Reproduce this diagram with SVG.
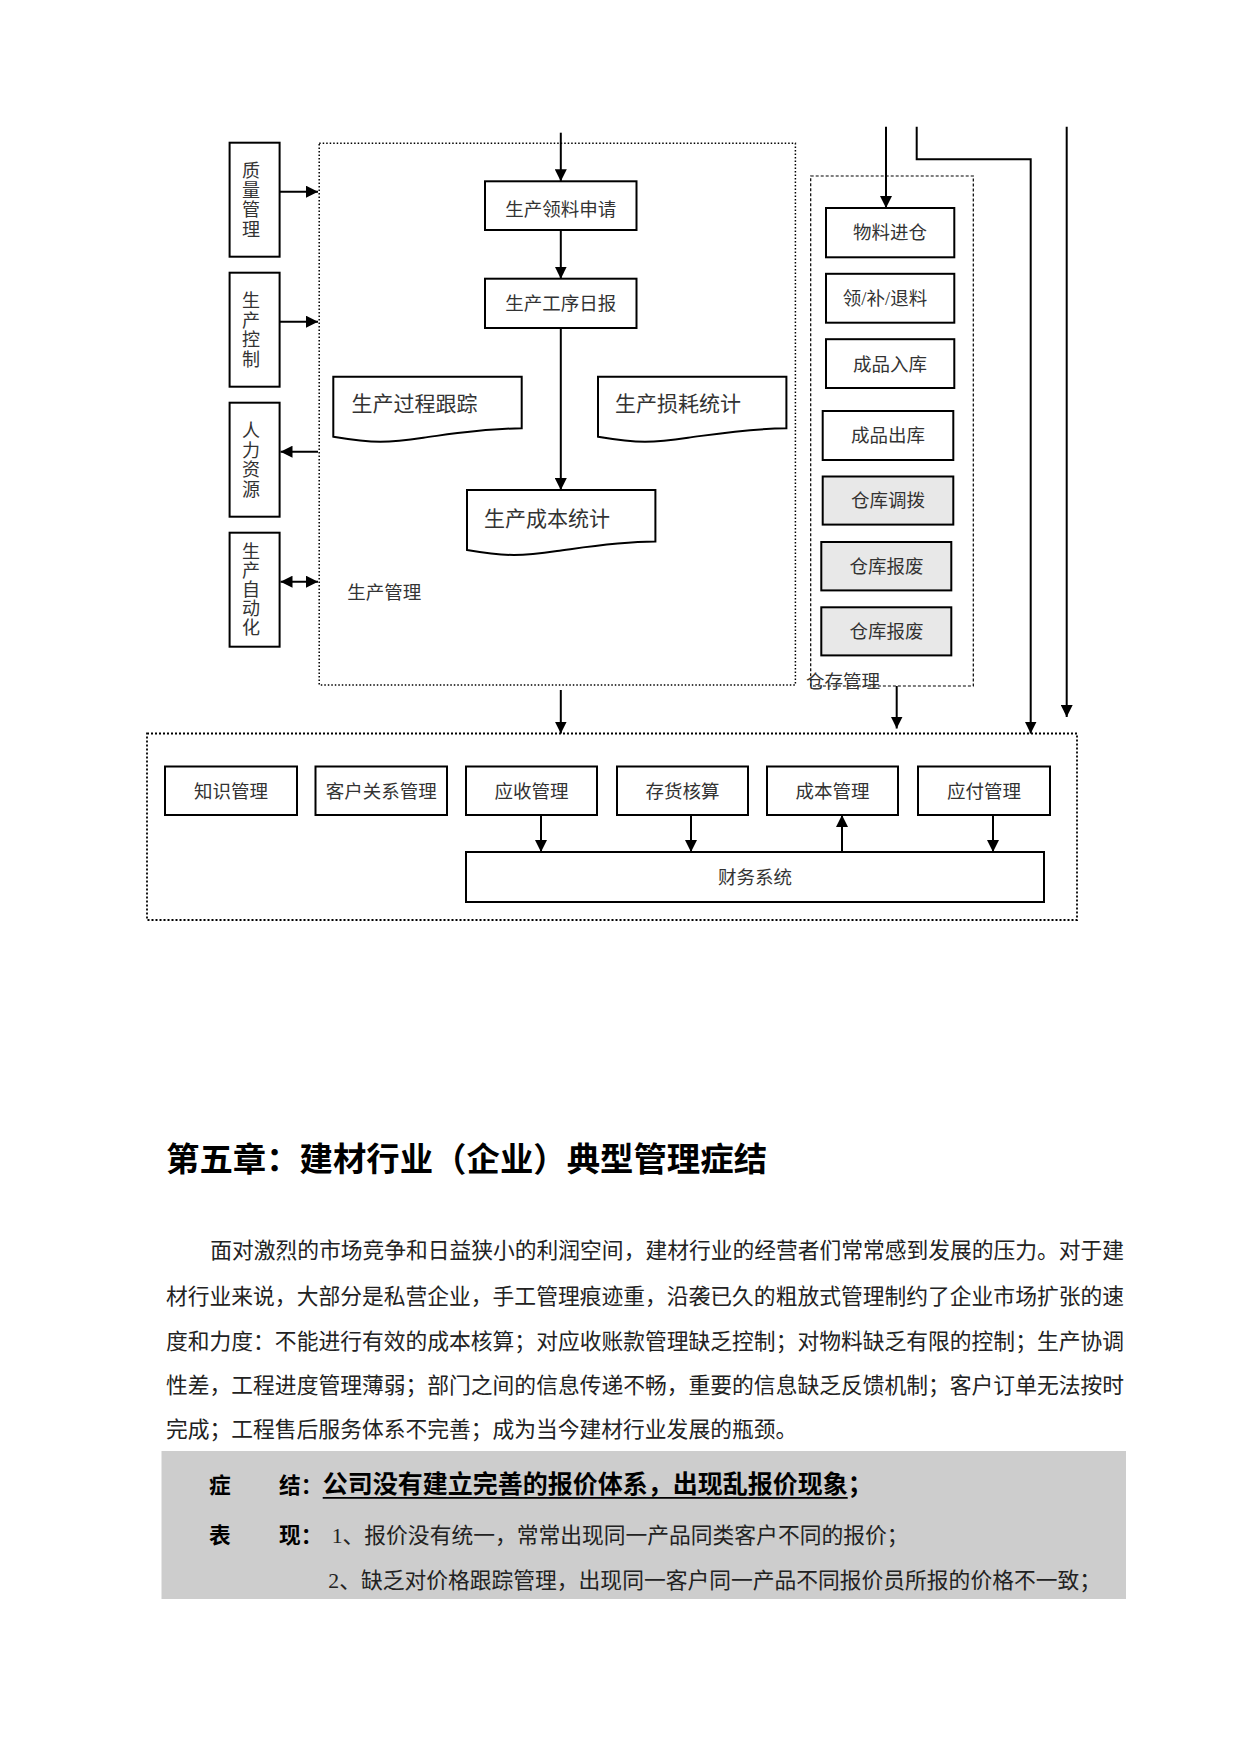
<svg xmlns="http://www.w3.org/2000/svg" width="1241" height="1755" viewBox="0 0 1241 1755">
<style>
.box{fill:#fff;stroke:#000;stroke-width:2}
.gbox{fill:#e8e8e8;stroke:#000;stroke-width:2}
.dotP{fill:none;stroke:#000;stroke-width:1.5;stroke-dasharray:1.5 2}
.dotW{fill:none;stroke:#000;stroke-width:1.2;stroke-dasharray:3 2}
.dotF{fill:none;stroke:#000;stroke-width:1.8;stroke-dasharray:2 2}
.lbl{font-family:"Liberation Serif","Noto Sans CJK SC",serif;font-size:18.5px;fill:#333;text-anchor:middle}
.lbs{font-family:"Liberation Serif","Noto Sans CJK SC",serif;font-size:18.5px;fill:#333}
.vl{font-family:"Liberation Serif","Noto Sans CJK SC",serif;font-size:18px;fill:#333;text-anchor:middle}
.doc{font-family:"Liberation Serif","Noto Sans CJK SC",serif;font-size:21px;fill:#333}
.conn{fill:none;stroke:#000;stroke-width:2}
.h1{font-family:"Noto Sans CJK SC",sans-serif;font-weight:bold;font-size:33.4px;fill:#000}
.p{font-family:"Liberation Serif","Noto Sans CJK SC",serif;font-size:21.77px;fill:#222}
.b{font-family:"Noto Sans CJK SC",sans-serif;font-weight:bold;font-size:21.7px;fill:#000}
.bt{font-family:"Noto Sans CJK SC",sans-serif;font-weight:bold;font-size:25px;fill:#000}
</style>
<defs>
<marker id="ah" markerWidth="12" markerHeight="12" refX="12" refY="6" orient="auto-start-reverse" markerUnits="userSpaceOnUse"><path d="M0,0 L12,6 L0,12 Z" fill="#000"/></marker>
<path id="docshape" d="M0,0 H188.4 V51.6 C150,52 120,57 90,61 C70,64 58,65 47,65 C30,65 15,62.5 0,60 Z"/>
</defs>
<rect width="1241" height="1755" fill="#fff"/>

<!-- left side boxes -->
<g id="quality">
<rect class="box" x="229.6" y="142.7" width="50" height="114"/>
<text class="vl"><tspan x="251" y="177.2">质</tspan><tspan x="251" y="196.7">量</tspan><tspan x="251" y="216.2">管</tspan><tspan x="251" y="235.7">理</tspan></text>
</g>
<g id="prodcontrol">
<rect class="box" x="229.6" y="272.7" width="50" height="114"/>
<text class="vl"><tspan x="251" y="307.2">生</tspan><tspan x="251" y="326.7">产</tspan><tspan x="251" y="346.2">控</tspan><tspan x="251" y="365.7">制</tspan></text>
</g>
<g id="hr">
<rect class="box" x="229.6" y="402.7" width="50" height="114"/>
<text class="vl"><tspan x="251" y="437.2">人</tspan><tspan x="251" y="456.7">力</tspan><tspan x="251" y="476.2">资</tspan><tspan x="251" y="495.7">源</tspan></text>
</g>
<g id="automation">
<rect class="box" x="229.6" y="532.7" width="50" height="114"/>
<text class="vl"><tspan x="251" y="558.2">生</tspan><tspan x="251" y="577.2">产</tspan><tspan x="251" y="596.2">自</tspan><tspan x="251" y="615.2">动</tspan><tspan x="251" y="634.2">化</tspan></text>
</g>

<!-- production management -->
<g id="production">
<rect class="dotP" x="319.2" y="143.3" width="476.2" height="541.7"/>
<text class="lbs" x="347.3" y="599">生产管理</text>
</g>
<g id="prod-apply">
<rect class="box" x="485" y="181.3" width="151.5" height="48.7"/>
<text class="lbl" x="560.8" y="216">生产领料申请</text>
</g>
<g id="prod-daily">
<rect class="box" x="485" y="278.7" width="151.5" height="49.3"/>
<text class="lbl" x="560.8" y="310">生产工序日报</text>
</g>
<g id="prod-track">
<use href="#docshape" x="333.3" y="376.7" fill="#fff" stroke="#000" stroke-width="2"/>
<text class="doc" x="351.5" y="411">生产过程跟踪</text>
</g>
<g id="prod-loss">
<use href="#docshape" x="598" y="376.7" fill="#fff" stroke="#000" stroke-width="2"/>
<text class="doc" x="615" y="411">生产损耗统计</text>
</g>
<g id="prod-cost">
<use href="#docshape" x="467" y="490" fill="#fff" stroke="#000" stroke-width="2"/>
<text class="doc" x="484" y="525.5">生产成本统计</text>
</g>

<!-- warehouse -->
<g id="warehouse">
<rect class="dotW" x="810.7" y="176" width="162.6" height="510"/>
<text class="lbs" x="806" y="688">仓存管理</text>
</g>
<g id="wh-in">
<rect class="box" x="826" y="208" width="128.3" height="49.3"/>
<text class="lbl" x="890" y="239">物料进仓</text>
</g>
<g id="wh-issue">
<rect class="box" x="826" y="273.8" width="128.3" height="48.9"/>
<text class="lbl" x="885" y="305">领/补/退料</text>
</g>
<g id="wh-fgin">
<rect class="box" x="826" y="339.2" width="128.3" height="48.8"/>
<text class="lbl" x="890" y="370.5">成品入库</text>
</g>
<g id="wh-fgout">
<rect class="box" x="822.7" y="411" width="130.6" height="49"/>
<text class="lbl" x="888" y="442">成品出库</text>
</g>
<g id="wh-transfer">
<rect class="gbox" x="822.7" y="476.5" width="130.6" height="48.1"/>
<text class="lbl" x="888" y="507">仓库调拨</text>
</g>
<g id="wh-scrap1">
<rect class="gbox" x="821.3" y="542" width="130" height="48.4"/>
<text class="lbl" x="886.5" y="572.7">仓库报废</text>
</g>
<g id="wh-scrap2">
<rect class="gbox" x="821.3" y="607.3" width="130" height="48.1"/>
<text class="lbl" x="886.5" y="637.8">仓库报废</text>
</g>

<!-- finance area -->
<g id="finance-area">
<rect class="dotF" x="147" y="733.5" width="930" height="186.5"/>
</g>
<g id="knowledge">
<rect class="box" x="165" y="766.5" width="132" height="48.5"/>
<text class="lbl" x="231" y="797.5">知识管理</text>
</g>
<g id="crm">
<rect class="box" x="315.5" y="766.5" width="131.5" height="48.5"/>
<text class="lbl" x="381.3" y="797.5">客户关系管理</text>
</g>
<g id="ar">
<rect class="box" x="466" y="766.5" width="131" height="48.5"/>
<text class="lbl" x="531.5" y="797.5">应收管理</text>
</g>
<g id="inventory">
<rect class="box" x="617" y="766.5" width="131" height="48.5"/>
<text class="lbl" x="682.5" y="797.5">存货核算</text>
</g>
<g id="costmgmt">
<rect class="box" x="767" y="766.5" width="131" height="48.5"/>
<text class="lbl" x="832.5" y="797.5">成本管理</text>
</g>
<g id="ap">
<rect class="box" x="918" y="766.5" width="132" height="48.5"/>
<text class="lbl" x="984" y="797.5">应付管理</text>
</g>
<g id="finsys">
<rect class="box" x="466" y="852" width="578" height="50"/>
<text class="lbl" x="755" y="883.5">财务系统</text>
</g>

<!-- connectors -->
<g id="connectors" class="conn">
<path d="M560.8,132.7 V181.3" marker-end="url(#ah)"/>
<path d="M560.8,230 V278.7" marker-end="url(#ah)"/>
<path d="M560.8,328 V490" marker-end="url(#ah)"/>
<path d="M279.6,191.7 H318" marker-end="url(#ah)"/>
<path d="M279.6,321.7 H318" marker-end="url(#ah)"/>
<path d="M318,451.7 H280.5" marker-end="url(#ah)"/>
<path d="M280.5,581.7 H318" marker-start="url(#ah)" marker-end="url(#ah)"/>
<path d="M560.8,690 V733.5" marker-end="url(#ah)"/>
<path d="M896.7,686 V728.5" marker-end="url(#ah)"/>
<path d="M886,126.7 V208" marker-end="url(#ah)"/>
<path d="M916.7,126.7 V159.3 H1030.7 V733.5" marker-end="url(#ah)"/>
<path d="M1066.7,126.7 V717" marker-end="url(#ah)"/>
<path d="M541,815 V852" marker-end="url(#ah)"/>
<path d="M691,815 V852" marker-end="url(#ah)"/>
<path d="M842,852 V815" marker-end="url(#ah)"/>
<path d="M993,815 V852" marker-end="url(#ah)"/>
</g>

<!-- chapter text -->
<text class="h1" x="166" y="1171">第五章：建材行业（企业）典型管理症结</text>
<text class="p" x="210.3" y="1258" textLength="913.7" lengthAdjust="spacing">面对激烈的市场竞争和日益狭小的利润空间，建材行业的经营者们常常感到发展的压力。对于建</text>
<text class="p" x="166" y="1304" textLength="958" lengthAdjust="spacing">材行业来说，大部分是私营企业，手工管理痕迹重，沿袭已久的粗放式管理制约了企业市场扩张的速</text>
<text class="p" x="166" y="1349" textLength="958" lengthAdjust="spacing">度和力度：不能进行有效的成本核算；对应收账款管理缺乏控制；对物料缺乏有限的控制；生产协调</text>
<text class="p" x="166" y="1393" textLength="958" lengthAdjust="spacing">性差，工程进度管理薄弱；部门之间的信息传递不畅，重要的信息缺乏反馈机制；客户订单无法按时</text>
<text class="p" x="166" y="1437">完成；工程售后服务体系不完善；成为当今建材行业发展的瓶颈。</text>

<rect x="161.5" y="1451" width="964.5" height="148" fill="#cdcdcd"/>
<text class="b" x="209" y="1492.5">症</text>
<text class="b" x="279" y="1492.5">结：</text>
<text class="bt" x="322.7" y="1492.5">公司没有建立完善的报价体系，出现乱报价现象；</text>
<line x1="322.7" y1="1497.8" x2="847.7" y2="1497.8" stroke="#000" stroke-width="1.8"/>
<text class="b" x="209" y="1543">表</text>
<text class="b" x="279" y="1543">现：</text>
<text class="p" x="331.7" y="1543">1、报价没有统一，常常出现同一产品同类客户不同的报价；</text>
<text class="p" x="328.3" y="1588">2、缺乏对价格跟踪管理，出现同一客户同一产品不同报价员所报的价格不一致；</text>
</svg>
